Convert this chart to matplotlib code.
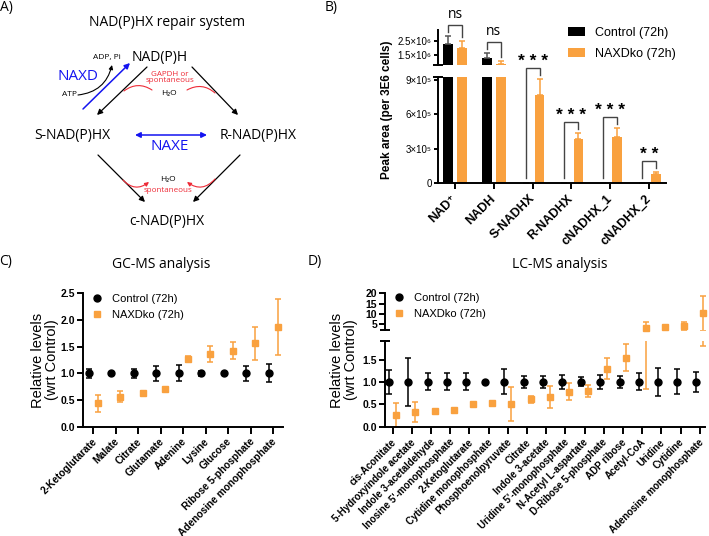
import matplotlib
matplotlib.use('Agg')
import matplotlib.pyplot as plt
import numpy as np
from matplotlib.patches import Patch
from matplotlib.lines import Line2D
from matplotlib.ticker import NullFormatter, FixedLocator
from matplotlib.transforms import ScaledTranslation

W, H = 709, 536
PLOT_FONT = ['Liberation Sans', 'DejaVu Sans']
DIAG_FONT = ['Open Sans', 'DejaVu Sans']
plt.rcParams['font.family'] = PLOT_FONT

ORANGE = '#F9A13F'
BLUE = '#1414F0'
RED = '#EE2A36'

# ---------------- Panel B data ----------------
b_cats = ['NAD⁺', 'NADH', 'S-NADHX', 'R-NADHX', 'cNADHX_1', 'cNADHX_2']
b_ctrl = [2.24e6, 1.33e6, 4e3, 0.0, 0.0, 0.0]
b_ctrl_err = [0.79e6, 0.26e6, 0.0, 0.0, 0.0, 0.0]
b_ko = [1.91e6, 1.08e6, 7.65e5, 3.80e5, 4.03e5, 0.78e5]
b_ko_err = [0.59e6, 0.14e6, 1.39e5, 0.57e5, 0.78e5, 0.18e5]
b_sig = ['ns', 'ns', '* * *', '* * *', '* * *', '* *']
b_low_ticks = [0, 3e5, 6e5, 9e5]
b_low_ticklabels = ['0', '3×10⁵', '6×10⁵', '9×10⁵']
b_up_ticks = [1.5e6, 2.5e6]
b_up_ticklabels = ['1.5×10⁶', '2.5×10⁶']
b_series = ['Control (72h)', 'NAXDko (72h)']

# ---------------- Panel C data ----------------
c_cats = ['2-Ketoglutarate', 'Malate', 'Citrate', 'Glutamate', 'Adenine', 'Lysine',
          'Glucose', 'Ribose 5-phosphate', 'Adenosine monophosphate']
c_ctrl = [1.0, 1.0, 1.0, 1.0, 1.0, 1.0, 1.0, 1.0, 1.0]
c_ctrl_err = [0.09, 0.03, 0.08, 0.14, 0.15, 0.05, 0.02, 0.14, 0.17]
c_ko = [0.44, 0.56, 0.64, 0.71, 1.27, 1.36, 1.42, 1.56, 1.87]
c_ko_err = [0.16, 0.10, 0.02, 0.02, 0.06, 0.15, 0.16, 0.31, 0.53]
c_yticks = [0.0, 0.5, 1.0, 1.5, 2.0, 2.5]

# ---------------- Panel D data ----------------
d_cats = ['cis-Aconitate', '5-Hydroxyindole acetate', 'Indole 3-acetaldehyde',
          "Inosine 5'-monophosphate", '2-Ketoglutarate', 'Cytidine monophosphate',
          'Phosphoenolpyruvate', 'Citrate', 'Indole 3-acetate', "Uridine 5'-monophosphate",
          'N-Acetyl L-aspartate', 'D-Ribose 5-phosphate', 'ADP ribose', 'Acetyl-CoA',
          'Uridine', 'Cytidine', 'Adenosine monophosphate']
d_ctrl = [1.0] * 17
d_ctrl_err = [0.26, 0.54, 0.19, 0.19, 0.19, 0.02, 0.28, 0.13, 0.13, 0.15, 0.10, 0.15,
              0.13, 0.19, 0.31, 0.28, 0.22]
d_ko = [0.26, 0.33, 0.36, 0.37, 0.50, 0.54, 0.51, 0.61, 0.67, 0.78, 0.80, 1.29, 1.54,
        3.4, 3.8, 4.2, 10.3]
d_ko_err = [0.27, 0.22, 0.02, 0.02, 0.02, 0.02, 0.38, 0.07, 0.245, 0.19, 0.14, 0.235,
            0.30, 2.55, 0.4, 1.8, 8.5]
d_low_ticks = [0.0, 0.5, 1.0, 1.5]
d_up_ticks = [5, 10, 15, 20]

# ---------------- figure ----------------
fig = plt.figure(figsize=(W / 100, H / 100), dpi=100)


def px_rect(l, t, r, b):
    return [l / W, (H - b) / H, (r - l) / W, (b - t) / H]


LW = 1.4


def style_axes(ax, bottom=True):
    for s in ['top', 'right']:
        ax.spines[s].set_visible(False)
    ax.spines['left'].set_linewidth(LW)
    ax.spines['bottom'].set_linewidth(LW)
    if not bottom:
        ax.spines['bottom'].set_visible(False)
        ax.tick_params(axis='x', bottom=False, labelbottom=False)
    ax.tick_params(width=LW, length=4, color='black')
    ax.patch.set_visible(False)


def break_mark(ax, val):
    ax.yaxis.set_minor_locator(FixedLocator([val]))
    ax.yaxis.set_minor_formatter(NullFormatter())
    ax.tick_params(axis='y', which='minor', direction='inout', length=7, width=LW)


def shift_labels(ax, dx_px, dy_px):
    off = ScaledTranslation(dx_px / 100, -dy_px / 100, fig.dpi_scale_trans)
    for lbl in ax.get_xticklabels():
        lbl.set_transform(lbl.get_transform() + off)


# ---- Panel B ----
bx = np.arange(len(b_cats))
bw, boff = 0.25, 0.18
axBl = fig.add_axes(px_rect(438, 77, 666, 183))
axBu = fig.add_axes(px_rect(438, 30, 666, 65.3))
zeros = np.zeros(len(b_cats))
for ax in (axBl, axBu):
    ax.bar(bx - boff, b_ctrl, bw, color='black',
           yerr=[zeros, b_ctrl_err],
           error_kw=dict(ecolor='#555555', elinewidth=1.1, capsize=2.2, capthick=1.1))
    ax.bar(bx + boff, b_ko, bw, color=ORANGE,
           yerr=[zeros, b_ko_err],
           error_kw=dict(ecolor=ORANGE, elinewidth=1.1, capsize=2.2, capthick=1.1))
    ax.set_xlim(-0.44, 5.44)
style_axes(axBl)
style_axes(axBu, bottom=False)
axBl.set_ylim(0, 9.22e5)
axBl.set_yticks(b_low_ticks)
axBl.set_yticklabels(b_low_ticklabels, fontsize=7)
axBl.tick_params(axis='y', length=3, pad=1.5)
axBl.set_xticks(bx)
axBl.set_xticklabels(b_cats, rotation=45, ha='right', va='center',
                     rotation_mode='anchor', fontweight='bold', fontsize=9)
axBl.tick_params(axis='x', length=4, pad=6)
break_mark(axBl, 9.22e5)
axBu.set_yscale('log')
axBu.set_ylim(1.03e6, 3.74e6)
axBu.yaxis.set_major_locator(FixedLocator(b_up_ticks))
axBu.set_yticklabels(b_up_ticklabels, fontsize=7)
axBu.tick_params(axis='y', length=3, pad=1.5)
break_mark(axBu, 1.03e6)

bh = [Patch(facecolor='black'), Patch(facecolor=ORANGE)]
axBl.legend(bh, b_series, loc='upper left', bbox_to_anchor=(568 / W, 1 - 27 / H),
            bbox_transform=fig.transFigure, frameon=False, fontsize=9,
            handlelength=1.36, handleheight=0.72, handletextpad=0.8,
            labelspacing=0.72, borderpad=0, borderaxespad=0)

# ---- Panel C ----
cx = np.arange(len(c_cats))
coff = 0.2
axC = fig.add_axes(px_rect(83, 293.3, 283, 426.7))
style_axes(axC)
axC.errorbar(cx - coff, c_ctrl, yerr=c_ctrl_err, fmt='o', color='black', ms=5,
             elinewidth=1.1, capsize=2.5, capthick=1.1, clip_on=False)
axC.errorbar(cx + coff, c_ko, yerr=c_ko_err, fmt='s', color=ORANGE, ms=5,
             elinewidth=1.1, capsize=2.5, capthick=1.1, clip_on=False)
axC.set_xlim(-0.46, 8.44)
axC.set_ylim(0, 2.5)
axC.set_yticks(c_yticks)
axC.set_yticklabels([f'{v:.1f}' for v in c_yticks], fontweight='bold', fontsize=7.5)
axC.tick_params(axis='y', length=4, pad=1.5)
axC.set_xticks(cx)
axC.set_xticklabels(c_cats, rotation=45, ha='right', va='center',
                    rotation_mode='anchor', fontweight='bold', fontsize=7.3)
axC.tick_params(axis='x', length=5, pad=4.5)
shift_labels(axC, 2, 0)
ch = [Line2D([], [], marker='o', color='black', ls='none', ms=5),
      Line2D([], [], marker='s', color=ORANGE, ls='none', ms=5)]
axC.legend(ch, b_series, loc='upper left', bbox_to_anchor=(91.5 / W, 1 - 294 / H),
           bbox_transform=fig.transFigure, frameon=False, fontsize=8,
           handlelength=1.0, handletextpad=0.85, labelspacing=0.5,
           borderpad=0, borderaxespad=0)

# ---- Panel D ----
dx = np.arange(len(d_cats))
doff = 0.18
axDl = fig.add_axes(px_rect(385, 340.7, 705, 426.7))
axDu = fig.add_axes(px_rect(385, 293.3, 705, 330))
d_low_max, d_up_min = 1.92, 2.2
d_ctrl_a = np.array(d_ctrl)
d_ko_a = np.array(d_ko)
d_ctrl_e = np.array(d_ctrl_err)
d_ko_e = np.array(d_ko_err)
for ax, lo, hi in ((axDl, 0, d_low_max), (axDu, d_up_min, 20)):
    # only the error bars that reach into this segment
    ec = np.where((d_ctrl_a + d_ctrl_e >= lo) & (d_ctrl_a - d_ctrl_e <= hi), d_ctrl_a, np.nan)
    ek = np.where((d_ko_a + d_ko_e >= lo) & (d_ko_a - d_ko_e <= hi), d_ko_a, np.nan)
    ax.errorbar(dx - doff, ec, yerr=d_ctrl_e, fmt='none', ecolor='black',
                elinewidth=1.1, capsize=2.3, capthick=1.1)
    ax.errorbar(dx + doff, ek, yerr=d_ko_e, fmt='none', ecolor=ORANGE,
                elinewidth=1.1, capsize=2.3, capthick=1.1)
    mc = np.where((d_ctrl_a >= lo) & (d_ctrl_a <= hi), d_ctrl_a, np.nan)
    mk = np.where((d_ko_a >= lo) & (d_ko_a <= hi), d_ko_a, np.nan)
    ax.plot(dx - doff, mc, 'o', color='black', ms=5, clip_on=False)
    ax.plot(dx + doff, mk, 's', color=ORANGE, ms=5, clip_on=False)
    ax.set_xlim(-0.4, 16.27)
style_axes(axDl)
style_axes(axDu, bottom=False)
axDl.set_ylim(0, d_low_max)
axDl.set_yticks(d_low_ticks)
axDl.set_yticklabels([f'{v:.1f}' for v in d_low_ticks], fontweight='bold', fontsize=7.5)
axDl.tick_params(axis='y', length=4, pad=1.5)
break_mark(axDl, d_low_max)
axDl.set_xticks(dx)
axDl.set_xticklabels(d_cats, rotation=45, ha='right', va='center',
                     rotation_mode='anchor', fontweight='bold', fontsize=7)
axDl.tick_params(axis='x', length=5, pad=5)
shift_labels(axDl, 2, 0)
axDu.set_ylim(d_up_min, 20)
axDu.set_yticks(d_up_ticks)
axDu.set_yticklabels([str(v) for v in d_up_ticks], fontweight='bold', fontsize=7.5)
axDu.tick_params(axis='y', length=4, pad=1.5)
break_mark(axDu, d_up_min)
axDu.legend(ch, b_series, loc='upper left', bbox_to_anchor=(393.5 / W, 1 - 293 / H),
            bbox_transform=fig.transFigure, frameon=False, fontsize=8,
            handlelength=1.0, handletextpad=0.85, labelspacing=0.5,
            borderpad=0, borderaxespad=0)

# ---- overlay in pixel coordinates ----
axO = fig.add_axes([0, 0, 1, 1], zorder=10)
axO.set_xlim(0, W)
axO.set_ylim(H, 0)
axO.axis('off')
axO.patch.set_visible(False)


def to_px(ax, x, y):
    d = ax.transData.transform((x, y))
    return axO.transData.inverted().transform(d)


# significance brackets (B)
for i, s in enumerate(b_sig):
    vc = b_ctrl[i] + b_ctrl_err[i]
    vk = b_ko[i] + b_ko_err[i]
    axc = axBu if vc > 9.22e5 else axBl
    axk = axBu if vk > 9.22e5 else axBl
    xc, yc = to_px(axc, i - boff, max(vc, 1.0))
    xk, yk = to_px(axk, i + boff, max(vk, 1.0))
    top = min(yc, yk) - 11
    lb = max(top + 7, yc - 5)
    rb = max(top + 7, yk - 4)
    axO.plot([xc, xc, xk, xk], [lb, top, top, rb], color='#444444', lw=1.0,
             solid_joinstyle='miter')
    if s == 'ns':
        axO.text((xc + xk) / 2, top - 3, s, ha='center', va='bottom', fontsize=10,
                 family=DIAG_FONT)
    else:
        axO.text((xc + xk) / 2, top + 1, s, ha='center', va='bottom', fontsize=12.5,
                 fontweight='bold')

# panel labels and titles
for lab, (x, y) in {'A)': (6, 8), 'B)': (331, 8), 'C)': (6, 261), 'D)': (315, 261)}.items():
    axO.text(x, y, lab, ha='center', va='center', fontsize=10, family=DIAG_FONT)
axO.text(167, 23, 'NAD(P)HX repair system', ha='center', va='center', fontsize=10,
         family=DIAG_FONT)
axO.text(161, 265, 'GC-MS analysis', ha='center', va='center', fontsize=10, family=DIAG_FONT)
axO.text(560, 265, 'LC-MS analysis', ha='center', va='center', fontsize=10, family=DIAG_FONT)

# y labels
axO.text(387, 110, 'Peak area (per 3E6 cells)', rotation=90, ha='center', va='center',
         fontweight='bold', fontsize=8.5)
for xl in (45, 344):
    axO.text(xl, 360, 'Relative levels\n(wrt Control)', rotation=90, ha='center',
             va='center', fontsize=10.5, linespacing=1.0)


# ---- Panel A diagram ----
def arrow(p0, p1, color, lw=0.9, style='-|>', rad=0.0, ms=8):
    axO.annotate('', xy=p1, xytext=p0, xycoords='data', textcoords='data',
                 arrowprops=dict(arrowstyle=style, color=color, lw=lw, shrinkA=0,
                                 shrinkB=0, mutation_scale=ms,
                                 connectionstyle=f'arc3,rad={rad}'))


def dtext(x, y, s, size=10, color='black'):
    axO.text(x, y, s, ha='center', va='center', fontsize=size, color=color,
             family=DIAG_FONT)


dtext(160, 58, 'NAD(P)H')
dtext(72, 135, 'S-NAD(P)HX')
dtext(258, 135, 'R-NAD(P)HX')
dtext(167, 221, 'c-NAD(P)HX')
dtext(78, 76, 'NAXD', size=11, color=BLUE)
dtext(170, 146, 'NAXE', size=11, color=BLUE)
dtext(107, 57, 'ADP, Pi', size=6)
dtext(69, 94, 'ATP', size=6)
dtext(170, 74, 'GAPDH or', size=5.8, color=RED)
dtext(170, 81, 'spontaneous', size=5.8, color=RED)
dtext(169, 94, 'H₂O', size=6)
dtext(168, 179, 'H₂O', size=6)
dtext(168, 191, 'spontaneous', size=5.8, color=RED)

arrow((83, 109), (130, 63), BLUE, lw=1.1)
arrow((78, 95), (112, 65), 'black', lw=0.8, rad=0.35, ms=6)
arrow((147, 67), (97, 115), 'black')
arrow((192, 67), (238, 115), 'black')
arrow((135, 135), (207, 135), BLUE, lw=1.1, style='<|-|>')
arrow((98, 155), (145, 202), 'black')
arrow((240, 155), (193, 202), 'black')
arrow((124, 91), (152, 90), RED, lw=0.8, style='-', rad=-0.35)
arrow((187, 90), (215, 93), RED, lw=0.8, style='-', rad=-0.35)
arrow((123, 180), (149, 182), RED, lw=0.8, rad=0.45, ms=6)
arrow((215, 179), (187, 182), RED, lw=0.8, rad=-0.45, ms=6)

fig.savefig('out.png', dpi=100)
